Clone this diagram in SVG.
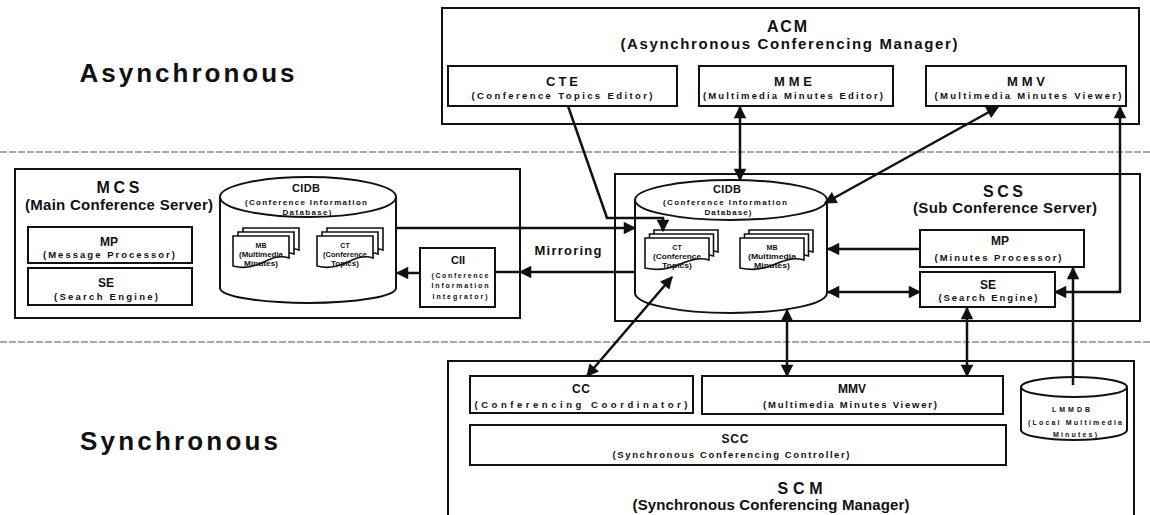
<svg xmlns="http://www.w3.org/2000/svg" width="1150" height="515" viewBox="0 0 1150 515">
<style>
.bg{fill:#fff}
.box{fill:#fff;stroke:#111;stroke-width:2}
.cyl{fill:#fff;stroke:#111;stroke-width:2}
.doc{fill:#fff;stroke:#111;stroke-width:1.6}
.dash{stroke:#555;stroke-width:1.2;stroke-dasharray:7 2;fill:none}
.conn{stroke:#111;stroke-width:2.5;fill:none}
.t{font-family:"Liberation Sans",Arial,sans-serif;font-weight:bold;fill:#111;text-anchor:middle}
.big{font-size:26px}
.h{font-size:16px}
.hs{font-size:15px}
.bt{font-size:13px}
.bt2{font-size:12px}
.bs{font-size:9.5px}
.ct{font-size:11px}
.cs{font-size:8px}
.ds{font-size:7px}
.dt{font-size:6.3px}
</style>
<defs>
<marker id="ah" viewBox="0 0 10 10" refX="9" refY="5" markerWidth="5.4" markerHeight="5" orient="auto-start-reverse" markerUnits="strokeWidth">
<path d="M0,0 L10,5 L0,10 z" fill="#111"/>
</marker>
<path id="docA" d="M0,0 H56 V22 C45,18 36,24 26,28 C17,32 8,32 0,30 Z"/>
<path id="docB" d="M0,0 H64 V22 C52,18 41,24 30,28 C20,32 9,32 0,30 Z"/>
</defs>
<rect class="bg" x="0" y="0" width="1150" height="515"/>

<g id="zones">
<line class="dash" x1="0" y1="152" x2="1150" y2="152"/>
<line class="dash" x1="0" y1="342" x2="1150" y2="342"/>
<text class="t big" x="187" y="82" textLength="215" lengthAdjust="spacing">Asynchronous</text>
<text class="t big" x="179" y="450" textLength="198" lengthAdjust="spacing">Synchronous</text>
</g>

<g id="ACM">
<rect class="box" x="442" y="8" width="697" height="116"/>
<text class="t h" x="787" y="32" textLength="40" lengthAdjust="spacing">ACM</text>
<text class="t hs" x="789" y="49" textLength="337" lengthAdjust="spacing">(Asynchronous Conferencing Manager)</text>
</g>
<g id="CTE">
<rect class="box" x="448" y="66" width="229" height="40"/>
<text class="t bt" x="562" y="86" textLength="32" lengthAdjust="spacing">CTE</text>
<text class="t bs" x="562" y="99" textLength="181" lengthAdjust="spacing">(Conference Topics Editor)</text>
</g>
<g id="MME">
<rect class="box" x="699" y="66" width="194" height="40"/>
<text class="t bt" x="793" y="86" textLength="38" lengthAdjust="spacing">MME</text>
<text class="t bs" x="793" y="99" textLength="180" lengthAdjust="spacing">(Multimedia Minutes Editor)</text>
</g>
<g id="ACM_MMV">
<rect class="box" x="926" y="66" width="200" height="40"/>
<text class="t bt" x="1026" y="86" textLength="38" lengthAdjust="spacing">MMV</text>
<text class="t bs" x="1028" y="99" textLength="187" lengthAdjust="spacing">(Multimedia Minutes Viewer)</text>
</g>

<g id="MCS">
<rect class="box" x="15" y="169" width="505" height="149"/>
<text class="t h" x="118" y="193" textLength="43" lengthAdjust="spacing">MCS</text>
<text class="t hs" x="119" y="210" textLength="188" lengthAdjust="spacing">(Main Conference Server)</text>
</g>
<g id="MCS_MP">
<rect class="box" x="28" y="227" width="164" height="36"/>
<text class="t bt2" x="109" y="246" textLength="18" lengthAdjust="spacing">MP</text>
<text class="t bs" x="109" y="258" textLength="132" lengthAdjust="spacing">(Message Processor)</text>
</g>
<g id="MCS_SE">
<rect class="box" x="28" y="268" width="164" height="37"/>
<text class="t bt2" x="106" y="287" textLength="16" lengthAdjust="spacing">SE</text>
<text class="t bs" x="106" y="300" textLength="104" lengthAdjust="spacing">(Search Engine)</text>
</g>
<g id="MCS_CIDB">
<path class="cyl" d="M220,197 V288 A88,15 0 0 0 396,288 V197"/>
<ellipse class="cyl" cx="308" cy="197" rx="88" ry="20"/>
<text class="t ct" x="306" y="192" textLength="28" lengthAdjust="spacing">CIDB</text>
<text class="t cs" x="306" y="205" textLength="122" lengthAdjust="spacing">(Conference Information</text>
<text class="t cs" x="307" y="215" textLength="49" lengthAdjust="spacing">Database)</text>
<g id="MCS_MB">
<use href="#docA" class="doc" x="243" y="228"/>
<use href="#docA" class="doc" x="238" y="232"/>
<use href="#docA" class="doc" x="233" y="236"/>
<text class="t ds" x="261" y="248">MB</text>
<text class="t dt" x="261" y="257" textLength="44" lengthAdjust="spacingAndGlyphs">(Multimedia</text>
<text class="t dt" x="261" y="266" textLength="34" lengthAdjust="spacingAndGlyphs">Minutes)</text>
</g>
<g id="MCS_CT">
<use href="#docA" class="doc" x="327" y="228"/>
<use href="#docA" class="doc" x="322" y="232"/>
<use href="#docA" class="doc" x="317" y="236"/>
<text class="t ds" x="345" y="248">CT</text>
<text class="t dt" x="345" y="257" textLength="44" lengthAdjust="spacingAndGlyphs">(Conference</text>
<text class="t dt" x="345" y="266" textLength="28" lengthAdjust="spacingAndGlyphs">Topics)</text>
</g>
</g>
<g id="CII">
<rect class="box" x="420" y="248" width="75" height="59"/>
<text class="t ct" x="458" y="264" textLength="14" lengthAdjust="spacing">CII</text>
<text class="t ds" x="460" y="278" textLength="57" lengthAdjust="spacing">(Conference</text>
<text class="t ds" x="460" y="288" textLength="57" lengthAdjust="spacing">Information</text>
<text class="t ds" x="460" y="299" textLength="55" lengthAdjust="spacing">Integrator)</text>
</g>
<g id="Mirroring">
<text class="t bt" x="568" y="255" textLength="67" lengthAdjust="spacing">Mirroring</text>
</g>

<g id="SCS">
<rect class="box" x="615" y="174" width="525" height="147"/>
<text class="t h" x="1003" y="197" textLength="40" lengthAdjust="spacing">SCS</text>
<text class="t hs" x="1005" y="213" textLength="184" lengthAdjust="spacing">(Sub Conference Server)</text>
</g>
<g id="SCS_CIDB">
<path class="cyl" d="M635,200 V293 A96,20 0 0 0 827,293 V200"/>
<ellipse class="cyl" cx="731" cy="200" rx="96" ry="20"/>
<text class="t ct" x="727" y="193" textLength="28" lengthAdjust="spacing">CIDB</text>
<text class="t cs" x="725" y="205" textLength="124" lengthAdjust="spacing">(Conference Information</text>
<text class="t cs" x="728" y="215" textLength="47" lengthAdjust="spacing">Database)</text>
<g id="SCS_CT">
<use href="#docB" class="doc" x="654" y="230"/>
<use href="#docB" class="doc" x="649.5" y="234"/>
<use href="#docB" class="doc" x="645" y="238"/>
<text class="t ds" x="677" y="250">CT</text>
<text class="t dt" x="677" y="259" textLength="48" lengthAdjust="spacingAndGlyphs">(Conference</text>
<text class="t dt" x="677" y="268" textLength="30" lengthAdjust="spacingAndGlyphs">Topics)</text>
</g>
<g id="SCS_MB">
<use href="#docB" class="doc" x="749" y="230"/>
<use href="#docB" class="doc" x="744.5" y="234"/>
<use href="#docB" class="doc" x="740" y="238"/>
<text class="t ds" x="772" y="250">MB</text>
<text class="t dt" x="772" y="259" textLength="48" lengthAdjust="spacingAndGlyphs">(Multimedia</text>
<text class="t dt" x="772" y="268" textLength="36" lengthAdjust="spacingAndGlyphs">Minutes)</text>
</g>
</g>
<g id="SCS_MP">
<rect class="box" x="920" y="230" width="164" height="37"/>
<text class="t bt2" x="1000" y="245" textLength="18" lengthAdjust="spacing">MP</text>
<text class="t bs" x="998" y="261" textLength="127" lengthAdjust="spacing">(Minutes Processor)</text>
</g>
<g id="SCS_SE">
<rect class="box" x="920" y="272" width="135" height="35"/>
<text class="t bt2" x="988" y="289" textLength="16" lengthAdjust="spacing">SE</text>
<text class="t bs" x="988" y="301" textLength="99" lengthAdjust="spacing">(Search Engine)</text>
</g>

<g id="SCM">
<rect class="box" x="448" y="361" width="686" height="170"/>
<text class="t h" x="800" y="494" textLength="45" lengthAdjust="spacing">SCM</text>
<text class="t hs" x="771" y="510" textLength="277" lengthAdjust="spacing">(Synchronous Conferencing Manager)</text>
</g>
<g id="CC">
<rect class="box" x="470" y="376" width="223" height="37"/>
<text class="t bt2" x="581" y="393" textLength="18" lengthAdjust="spacing">CC</text>
<text class="t bs" x="581" y="408" textLength="213" lengthAdjust="spacing">(Conferencing Coordinator)</text>
</g>
<g id="SCM_MMV">
<rect class="box" x="702" y="376" width="301" height="38"/>
<text class="t bt2" x="852" y="393" textLength="28" lengthAdjust="spacing">MMV</text>
<text class="t bs" x="850" y="408" textLength="174" lengthAdjust="spacing">(Multimedia Minutes Viewer)</text>
</g>
<g id="SCC">
<rect class="box" x="470" y="425" width="536" height="40"/>
<text class="t bt2" x="735" y="443" textLength="27" lengthAdjust="spacing">SCC</text>
<text class="t bs" x="731" y="458" textLength="237" lengthAdjust="spacing">(Synchronous Conferencing Controller)</text>
</g>
<g id="LMMDB">
<path class="cyl" d="M1021,387 V430 A53,10 0 0 0 1127,430 V387"/>
<ellipse class="cyl" cx="1074" cy="387" rx="53" ry="10"/>
<text class="t ds" x="1071" y="412" textLength="38" lengthAdjust="spacing">LMMDB</text>
<text class="t ds" x="1075" y="425" textLength="94" lengthAdjust="spacing">(Local Multimedia</text>
<text class="t ds" x="1075" y="437" textLength="44" lengthAdjust="spacing">Minutes)</text>
</g>

<g id="connectors">
<path class="conn" d="M568,106 L607,218 L663,218 L663,231" marker-end="url(#ah)"/>
<path class="conn" d="M740,107 V180" marker-start="url(#ah)" marker-end="url(#ah)"/>
<path class="conn" d="M825,203 L998,107" marker-start="url(#ah)" marker-end="url(#ah)"/>
<path class="conn" d="M1055,292 H1120 V107" marker-start="url(#ah)" marker-end="url(#ah)"/>
<path class="conn" d="M396,228 H635" marker-end="url(#ah)"/>
<path class="conn" d="M635,272 H520" marker-end="url(#ah)"/>
<path class="conn" d="M520,272 H495"/>
<path class="conn" d="M420,273 H397" marker-end="url(#ah)"/>
<path class="conn" d="M920,249 H828" marker-end="url(#ah)"/>
<path class="conn" d="M828,292 H920" marker-start="url(#ah)" marker-end="url(#ah)"/>
<path class="conn" d="M967,308 V376" marker-start="url(#ah)" marker-end="url(#ah)"/>
<path class="conn" d="M1073,385 V268" marker-end="url(#ah)"/>
<path class="conn" d="M672,277 L587,376" marker-start="url(#ah)" marker-end="url(#ah)"/>
<path class="conn" d="M787,310 V376" marker-start="url(#ah)" marker-end="url(#ah)"/>
</g>
</svg>
